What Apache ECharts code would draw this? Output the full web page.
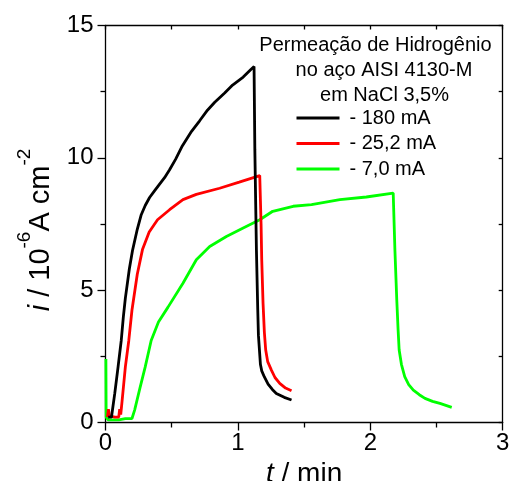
<!DOCTYPE html>
<html><head><meta charset="utf-8">
<script src="https://cdn.jsdelivr.net/npm/echarts@6/dist/echarts.min.js"></script>
<style>html,body{margin:0;padding:0;background:#fff}#c{width:509px;height:481px}</style>
</head><body><div id="c"></div>
<script>
const FONT = '"Liberation Sans", Arial, sans-serif';
const seriesNames = ['- 180 mA', '- 25,2 mA', '- 7,0 mA'];
const xTickValues = [0, 1, 2, 3];
const yTickValues = [0, 5, 10, 15];
const annotationLines = ['Permeação de Hidrogênio', 'no aço AISI 4130-M', 'em NaCl 3,5%'];

const tBlack = [0.02, 0.045, 0.07, 0.095, 0.119, 0.135, 0.15, 0.18, 0.204, 0.24, 0.27, 0.3, 0.333, 0.37, 0.4, 0.446, 0.484, 0.53, 0.58, 0.65, 0.711, 0.77, 0.825, 0.9, 0.96, 1.04, 1.1, 1.122, 1.128, 1.14, 1.15, 1.155, 1.17, 1.18, 1.2, 1.228, 1.26, 1.29, 1.35, 1.405];
const iBlack = [0.2, 0.2, 1.1, 2.1, 3.1, 4.0, 4.7, 5.8, 6.5, 7.3, 7.85, 8.2, 8.5, 8.75, 8.95, 9.25, 9.55, 9.95, 10.45, 11.0, 11.4, 11.8, 12.1, 12.45, 12.75, 13.05, 13.35, 13.45, 10.3, 6.5, 4.25, 3.3, 2.2, 1.95, 1.72, 1.45, 1.25, 1.1, 0.95, 0.85];

const tRed = [0.015, 0.022, 0.03, 0.04, 0.07, 0.1, 0.107, 0.115, 0.125, 0.15, 0.176, 0.2, 0.24, 0.28, 0.33, 0.393, 0.484, 0.585, 0.686, 0.862, 1.01, 1.165, 1.175, 1.18, 1.19, 1.2, 1.21, 1.225, 1.253, 1.28, 1.316, 1.36, 1.405];
const iRed = [0.2, 0.5, 0.25, 0.2, 0.2, 0.2, 0.5, 0.3, 0.8, 2.1, 3.1, 4.25, 5.6, 6.55, 7.2, 7.66, 8.04, 8.42, 8.62, 8.85, 9.08, 9.33, 7.5, 6.15, 4.5, 3.4, 2.74, 2.3, 1.98, 1.7, 1.48, 1.3, 1.2];

const tGreen = [0.003, 0.005, 0.02, 0.1, 0.15, 0.2, 0.22, 0.26, 0.3, 0.345, 0.4, 0.471, 0.585, 0.686, 0.787, 0.913, 1.04, 1.165, 1.263, 1.417, 1.556, 1.77, 1.97, 2.173, 2.186, 2.2, 2.21, 2.218, 2.235, 2.26, 2.29, 2.325, 2.37, 2.413, 2.47, 2.526, 2.615];
const iGreen = [2.4, 0.2, 0.1, 0.1, 0.15, 0.15, 0.47, 1.3, 2.1, 3.1, 3.8, 4.35, 5.26, 6.15, 6.65, 7.03, 7.35, 7.66, 7.98, 8.17, 8.23, 8.42, 8.52, 8.67, 6.5, 4.63, 3.5, 2.74, 2.2, 1.73, 1.43, 1.22, 1.05, 0.91, 0.8, 0.72, 0.57];

const zip = (a, b) => a.map((v, k) => [v, b[k]]);
const colors = ['#000000', '#ff0000', '#00ff00'];
const dataSets = [zip(tBlack, iBlack), zip(tRed, iRed), zip(tGreen, iGreen)];

const chart = echarts.init(document.getElementById('c'));
const axisLineStyle = { color: '#000', width: 1.3 };
const step = (arr) => arr[1] - arr[0];

const series = [2, 1, 0].map(k => ({
  name: seriesNames[k], type: 'line', data: dataSets[k],
  xAxisIndex: 0, yAxisIndex: 0,
  showSymbol: false, symbol: 'none', smooth: false,
  lineStyle: { color: colors[k], width: 2.8 }, itemStyle: { color: colors[k] },
  z: 3 + (2 - k)
}));

chart.setOption({
  animation: false,
  backgroundColor: '#fff',
  grid: { left: 105.5, right: 6.3, top: 25.5, bottom: 58.5, containLabel: false, outerBoundsMode: 'none' },
  legend: {
    data: seriesNames.map((n, k) => ({ name: n, icon: 'rect', itemStyle: { color: colors[k] } })),
    orient: 'vertical', left: 296.5, top: 108, padding: 0,
    itemWidth: 43, itemHeight: 2.8, itemGap: 5.5,
    textStyle: { fontSize: 20, fontFamily: FONT, color: '#000', padding: [0, 0, 0, 5], lineHeight: 20 }
  },
  graphic: annotationLines.map((txt, k) => ({
    type: 'text', x: [375.5, 384, 384.5][k], y: 35 + 25 * k,
    style: { text: txt, font: '20px ' + FONT, fill: '#000', textAlign: 'center', textVerticalAlign: 'top' }
  })),
  xAxis: [{
    type: 'value', position: 'bottom',
    min: xTickValues[0], max: xTickValues[xTickValues.length - 1], interval: step(xTickValues),
    axisLine: { show: true, onZero: false, lineStyle: axisLineStyle },
    axisTick: { show: true, inside: false, length: 8, lineStyle: { color: '#000', width: 1.3 } },
    minorTick: { show: true, splitNumber: 2, length: 5, lineStyle: { color: '#000', width: 1.3 } },
    splitLine: { show: false },
    axisLabel: { fontSize: 24, fontFamily: FONT, color: '#000', margin: 9 },
    name: '{it|t} / min', nameLocation: 'middle', nameGap: 25,
    nameTextStyle: { fontSize: 28, fontFamily: FONT, color: '#000',
      rich: { it: { fontStyle: 'italic', fontSize: 28, fontFamily: FONT, color: '#000' } } }
  }, {
    type: 'value', position: 'top',
    min: xTickValues[0], max: xTickValues[xTickValues.length - 1], interval: step(xTickValues) / 2,
    axisLine: { show: true, onZero: false, lineStyle: axisLineStyle },
    axisTick: { show: true, inside: true, length: 4, lineStyle: { color: '#000', width: 1.3 } },
    splitLine: { show: false }, axisLabel: { show: false }
  }],
  yAxis: [{
    type: 'value', position: 'left',
    min: yTickValues[0], max: yTickValues[yTickValues.length - 1], interval: step(yTickValues),
    axisLine: { show: true, onZero: false, lineStyle: axisLineStyle },
    axisTick: { show: true, inside: false, length: 8, lineStyle: { color: '#000', width: 1.3 } },
    minorTick: { show: true, splitNumber: 2, length: 5, lineStyle: { color: '#000', width: 1.3 } },
    splitLine: { show: false },
    axisLabel: { fontSize: 24, fontFamily: FONT, color: '#000', margin: 12 },
    name: '{it|i} / 10{sup|-6}A cm{sup|-2}{gap|}', nameLocation: 'middle', nameGap: 35, nameRotate: 90,
    nameTextStyle: { fontSize: 29, fontFamily: FONT, color: '#000',
      rich: {
        it: { fontStyle: 'italic', fontSize: 29, fontFamily: FONT, color: '#000' },
        sup: { fontSize: 19, fontFamily: FONT, color: '#000', padding: [0, 0, 34, 0] },
        gap: { width: 12, fontSize: 19 }
      } }
  }, {
    type: 'value', position: 'right',
    min: yTickValues[0], max: yTickValues[yTickValues.length - 1], interval: step(yTickValues) / 2,
    axisLine: { show: true, onZero: false, lineStyle: axisLineStyle },
    axisTick: { show: true, inside: true, length: 4, lineStyle: { color: '#000', width: 1.3 } },
    splitLine: { show: false }, axisLabel: { show: false }
  }],
  series: series
});
</script></body></html>
